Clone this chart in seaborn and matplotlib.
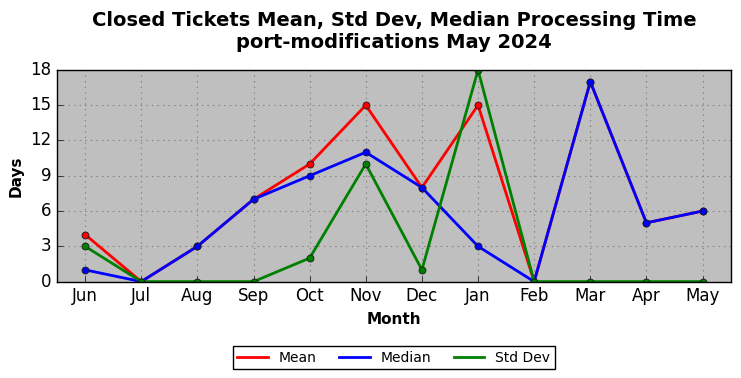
import matplotlib
matplotlib.use("Agg")
import matplotlib.pyplot as plt
import seaborn as sns
import pandas as pd

months = ["Jun", "Jul", "Aug", "Sep", "Oct", "Nov", "Dec", "Jan", "Feb", "Mar", "Apr", "May"]
mean_vals = [4, 0, 3, 7, 10, 15, 8, 15, 0, 17, 5, 6]
median_vals = [1, 0, 3, 7, 9, 11, 8, 3, 0, 17, 5, 6]
std_vals = [3, 0, 0, 0, 2, 10, 1, 18, 0, 0, 0, 0]
yticks = [0, 3, 6, 9, 12, 15, 18]

plt.style.use("classic")
plt.rcParams["font.family"] = ["DejaVu Sans"]

fig, ax = plt.subplots(figsize=(7.41, 3.78), dpi=100)
fig.subplots_adjust(left=0.077, right=0.986, top=0.815, bottom=0.255)
ax.set_facecolor("#bfbfbf")

x = list(range(len(months)))
series = [("Mean", mean_vals, "red"), ("Median", median_vals, "blue"), ("Std Dev", std_vals, "green")]
for name, vals, col in series:
    df = pd.DataFrame({"x": x, "y": vals})
    sns.lineplot(data=df, x="x", y="y", ax=ax, color=col, linewidth=2, marker="o",
                 markersize=5, markeredgecolor="#1a1a1a", markeredgewidth=0.6, label=name)

ax.set_xlim(-0.5, len(months) - 0.5)
ax.set_ylim(0, 18)
ax.set_xticks(x)
ax.set_xticklabels(months, fontsize=12)
ax.set_yticks(yticks)
ax.set_yticklabels([str(v) for v in yticks], fontsize=12)
ax.grid(True, color="#808080", linestyle=":", linewidth=0.8)
ax.set_axisbelow(True)
ax.tick_params(top=False, right=False)
ax.set_xlabel("Month", fontsize=11, fontweight="bold")
ax.set_ylabel("Days", fontsize=11, fontweight="bold")
ax.set_title("Closed Tickets Mean, Std Dev, Median Processing Time\nport-modifications May 2024",
             fontsize=14, fontweight="bold", pad=16)

leg = ax.legend(loc="upper center", bbox_to_anchor=(0.5, -0.27), ncol=3, fontsize=10,
                frameon=True, fancybox=False, handlelength=2.2, numpoints=1,
                columnspacing=1.6, borderpad=0.35)
for h in leg.legend_handles:
    h.set_marker("")
leg.get_frame().set_edgecolor("black")

fig.savefig("out.png", dpi=100)
